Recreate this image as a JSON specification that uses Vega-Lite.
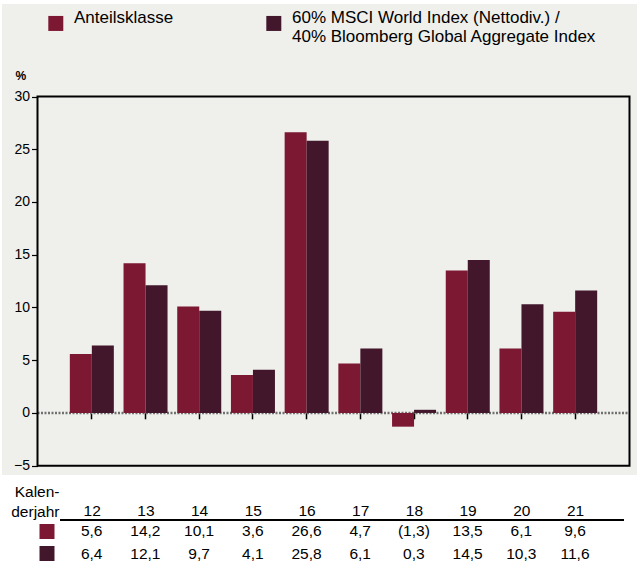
{
  "$schema": "https://vega.github.io/schema/vega-lite/v6.json",
  "background": "#ffffff",
  "padding": {"left": 2, "top": 4, "right": 0, "bottom": 0},
  "spacing": 0,
  "config": {
    "locale": {"number": {"decimal": ",", "thousands": ".", "grouping": [3], "currency": ["", " €"]}},
    "font": "Liberation Sans",
    "axis": {"grid": false}
  },
  "datasets": {
    "perf": [
      {"year": "12", "series": "Anteilsklasse", "value": 5.6},
      {"year": "12", "series": "60% MSCI World Index (Nettodiv.) / 40% Bloomberg Global Aggregate Index", "value": 6.4},
      {"year": "13", "series": "Anteilsklasse", "value": 14.2},
      {"year": "13", "series": "60% MSCI World Index (Nettodiv.) / 40% Bloomberg Global Aggregate Index", "value": 12.1},
      {"year": "14", "series": "Anteilsklasse", "value": 10.1},
      {"year": "14", "series": "60% MSCI World Index (Nettodiv.) / 40% Bloomberg Global Aggregate Index", "value": 9.7},
      {"year": "15", "series": "Anteilsklasse", "value": 3.6},
      {"year": "15", "series": "60% MSCI World Index (Nettodiv.) / 40% Bloomberg Global Aggregate Index", "value": 4.1},
      {"year": "16", "series": "Anteilsklasse", "value": 26.6},
      {"year": "16", "series": "60% MSCI World Index (Nettodiv.) / 40% Bloomberg Global Aggregate Index", "value": 25.8},
      {"year": "17", "series": "Anteilsklasse", "value": 4.7},
      {"year": "17", "series": "60% MSCI World Index (Nettodiv.) / 40% Bloomberg Global Aggregate Index", "value": 6.1},
      {"year": "18", "series": "Anteilsklasse", "value": -1.3},
      {"year": "18", "series": "60% MSCI World Index (Nettodiv.) / 40% Bloomberg Global Aggregate Index", "value": 0.3},
      {"year": "19", "series": "Anteilsklasse", "value": 13.5},
      {"year": "19", "series": "60% MSCI World Index (Nettodiv.) / 40% Bloomberg Global Aggregate Index", "value": 14.5},
      {"year": "20", "series": "Anteilsklasse", "value": 6.1},
      {"year": "20", "series": "60% MSCI World Index (Nettodiv.) / 40% Bloomberg Global Aggregate Index", "value": 10.3},
      {"year": "21", "series": "Anteilsklasse", "value": 9.6},
      {"year": "21", "series": "60% MSCI World Index (Nettodiv.) / 40% Bloomberg Global Aggregate Index", "value": 11.6}
    ]
  },
  "vconcat": [
    {
      "width": 635,
      "height": 471,
      "view": {"fill": "#efefeb", "stroke": null},
      "resolve": {"scale": {"x": "independent"}, "axis": {"x": "independent"}},
      "layer": [
        {
          "data": {"values": [{}]},
          "mark": {"type": "rule", "strokeDash": [2, 1.5], "strokeWidth": 2.5, "color": "#707070"},
          "encoding": {
            "x": {"datum": 0, "type": "quantitative", "scale": {"domain": [0, 1], "range": [35.5, 627.5]}, "axis": null},
            "x2": {"datum": 1},
            "y": {"datum": 0, "type": "quantitative"}
          }
        },
        {
          "data": {"name": "perf"},
          "mark": {"type": "bar"},
          "encoding": {
            "x": {
              "field": "year", "type": "nominal",
              "scale": {"range": [35.5, 627.5], "paddingInner": 0.1806, "paddingOuter": 0.602},
              "axis": {"orient": "bottom", "offset": -62.2, "labels": false, "domain": false, "ticks": true, "tickSize": 6, "tickColor": "#000000", "tickWidth": 1.5, "title": null}
            },
            "xOffset": {
              "field": "series", "type": "nominal",
              "scale": {"domain": ["Anteilsklasse", "60% MSCI World Index (Nettodiv.) / 40% Bloomberg Global Aggregate Index"], "paddingInner": 0, "paddingOuter": 0}
            },
            "y": {
              "field": "value", "type": "quantitative",
              "scale": {"domain": [-5, 30], "range": [461.7, 92.5], "nice": false, "zero": false},
              "axis": {
                "orient": "left", "offset": -35.5,
                "values": [-5, 0, 5, 10, 15, 20, 25, 30],
                "title": "%", "titleAngle": 0, "titleX": -22.5, "titleY": 75, "titleAlign": "left", "titleBaseline": "alphabetic",
                "titleFont": "Liberation Sans", "titleFontSize": 12, "titleFontWeight": "bold", "titleColor": "#000000",
                "labelFont": "Liberation Sans", "labelFontSize": 14, "labelColor": "#000000", "labelPadding": 2,
                "tickSize": 6, "tickColor": "#000000", "tickWidth": 1.2, "domain": false, "grid": false
              }
            },
            "color": {
              "field": "series", "type": "nominal",
              "scale": {"domain": ["Anteilsklasse", "60% MSCI World Index (Nettodiv.) / 40% Bloomberg Global Aggregate Index"], "range": ["#7c1832", "#42162b"]},
              "legend": {
                "title": null, "orient": "none", "legendX": 45.3, "legendY": 10.7, "direction": "horizontal", "columns": 2, "columnPadding": 92,
                "symbolType": "square", "symbolSize": 225, "symbolStrokeWidth": 0, "symbolOpacity": 1, "labelOffset": 9.7,
                "labelFont": "Liberation Sans", "labelFontSize": 17, "labelColor": "#000000", "labelLimit": 600, "padding": 0,
                "labelBaseline": "alphabetic",
                "labelExpr": "datum.label == 'Anteilsklasse' ? [datum.label, ' '] : split(replace(datum.label, ' / ', ' /|'), '|')",
                "encoding": {"labels": {"update": {"dy": {"value": 2.7}, "lineHeight": {"value": 20}}}}
              }
            }
          }
        },
        {
          "data": {"values": [{}]},
          "mark": {"type": "rect", "filled": false, "stroke": "#000000", "strokeWidth": 2},
          "encoding": {
            "x": {"datum": 0, "type": "quantitative", "scale": {"domain": [0, 1], "range": [35.5, 627.5]}, "axis": null},
            "x2": {"datum": 1},
            "y": {"datum": -5, "type": "quantitative"},
            "y2": {"datum": 30}
          }
        }
      ]
    },
    {
      "width": 635,
      "height": 90,
      "view": {"fill": "#ffffff", "stroke": null},
      "resolve": {"scale": {"x": "independent"}, "axis": {"x": "independent"}},
      "layer": [
        {
          "data": {"name": "perf"},
          "mark": {"type": "text", "font": "Liberation Sans", "fontSize": 15.5, "color": "#000000", "baseline": "middle"},
          "encoding": {
            "x": {
              "field": "year", "type": "nominal",
              "scale": {"range": [62.85, 599.85], "paddingInner": 0, "paddingOuter": 0},
              "axis": {
                "orient": "top", "offset": -47, "domain": false, "ticks": false, "labelAngle": 0,
                "labelFont": "Liberation Sans", "labelFontSize": 15.5, "labelColor": "#000000", "labelPadding": 4,
                "title": ["Kalen-", "derjahr"], "titleX": 57, "titleY": -25.5, "titleAlign": "right", "titleBaseline": "alphabetic",
                "titleFont": "Liberation Sans", "titleFontSize": 15.5, "titleFontWeight": "normal", "titleColor": "#000000", "titleLineHeight": 19.5, "titleAngle": 0
              }
            },
            "y": {
              "field": "series", "type": "nominal",
              "scale": {"domain": ["Anteilsklasse", "60% MSCI World Index (Nettodiv.) / 40% Bloomberg Global Aggregate Index"], "paddingInner": 0, "paddingOuter": 1.093, "align": 1},
              "axis": {
                "orient": "left", "offset": -52, "domain": false, "labels": false, "ticks": true, "tickSize": 15, "tickWidth": 15, "tickCap": "butt",
                "tickColor": {"condition": {"test": "datum.value === 'Anteilsklasse'", "value": "#7c1832"}, "value": "#42162b"},
                "title": null, "minExtent": 0, "maxExtent": 0
              }
            },
            "text": {"field": "value", "type": "quantitative", "format": "(.1f"}
          }
        },
        {
          "data": {"values": [{}]},
          "mark": {"type": "rule", "color": "#000000", "strokeWidth": 2},
          "encoding": {
            "x": {"datum": 0, "type": "quantitative", "scale": {"domain": [0, 1], "range": [58, 622]}, "axis": null},
            "x2": {"datum": 1},
            "y": {"datum": "Anteilsklasse", "type": "nominal", "bandPosition": 0}
          }
        }
      ]
    }
  ]
}
